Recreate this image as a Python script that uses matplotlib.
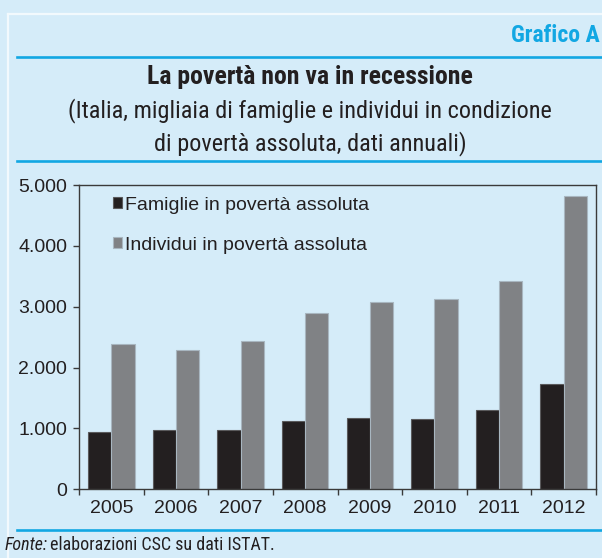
import matplotlib
matplotlib.use('Agg')
import matplotlib.pyplot as plt
import numpy as np
from matplotlib import font_manager
from matplotlib.lines import Line2D

# Data (thousands)
years = ['2005', '2006', '2007', '2008', '2009', '2010', '2011', '2012']
famiglie = [934, 967, 972, 1125, 1164, 1152, 1295, 1726]
individui = [2382, 2295, 2431, 2890, 3070, 3131, 3415, 4813]
series_labels = ['Famiglie in povertà assoluta', 'Individui in povertà assoluta']
yticks = [0, 1000, 2000, 3000, 4000, 5000]
ytick_labels = ['0', '1.000', '2.000', '3.000', '4.000', '5.000']

# pick a condensed face for the titles, if one is installed
names = {f.name for f in font_manager.fontManager.ttflist}
narrow = 'Liberation Sans'
for cand in ['Roboto Condensed', 'Liberation Sans Narrow', 'Archivo Narrow',
             'PT Sans Narrow', 'Pragati Narrow', 'Fira Sans Condensed',
             'IBM Plex Sans Condensed', 'Encode Sans Condensed', 'Roboto']:
    if cand in names:
        narrow = cand
        break
plt.rcParams['font.family'] = ['Liberation Sans', 'DejaVu Sans']

bg = '#d5ecf9'
cyan = '#12a7e3'
dark = '#231f20'
grey = '#808285'

fig = plt.figure(figsize=(6.02, 5.58), dpi=100, facecolor=bg)
W, H = 602, 558

def fx(px):
    return px / W

def fy(py):
    return 1 - py / H

# white frame
fig.add_artist(Line2D([fx(8), fx(8)], [fy(14), 0], transform=fig.transFigure, color='#f2f9fd', lw=1.6))
fig.add_artist(Line2D([fx(8), 1], [fy(14), fy(14)], transform=fig.transFigure, color='#f2f9fd', lw=1.6))

# cyan rules
for py in [57, 161, 530]:
    fig.add_artist(Line2D([fx(17), 1], [fy(py), fy(py)], transform=fig.transFigure, color=cyan, lw=1.9))

fig.text(fx(600), fy(36), 'Grafico A', ha='right', va='center', color=cyan,
         fontsize=17, fontweight='bold', family=[narrow, 'DejaVu Sans'])
fig.text(fx(310), fy(77), 'La povertà non va in recessione', ha='center', va='center',
         color=dark, fontsize=18.5, fontweight='bold', family=[narrow, 'DejaVu Sans'])
fig.text(fx(310), fy(111), '(Italia, migliaia di famiglie e individui in condizione',
         ha='center', va='center', color=dark, fontsize=17.5, family=[narrow, 'DejaVu Sans'])
fig.text(fx(310), fy(144), 'di povertà assoluta, dati annuali)',
         ha='center', va='center', color=dark, fontsize=17.5, family=[narrow, 'DejaVu Sans'])
t_src = fig.text(fx(5), fy(545), 'Fonte:', ha='left', va='center', color=dark,
                 fontsize=13, style='italic', family=[narrow, 'DejaVu Sans'])
r = fig.canvas.get_renderer()
bb = t_src.get_window_extent(renderer=r)
fig.text((bb.x1 + 2) / W, fy(545), 'elaborazioni CSC su dati ISTAT.', ha='left', va='center',
         color=dark, fontsize=13, family=[narrow, 'DejaVu Sans'])

ax = fig.add_axes([fx(79), fy(489.3), fx(596) - fx(79), fy(185) - fy(489.3)])
ax.set_facecolor(bg)

x = np.arange(len(years))
w = 0.36
b1 = ax.bar(x - w / 2, famiglie, w, color=dark, edgecolor='#5a5a5c', linewidth=0.8,
            label=series_labels[0])
b2 = ax.bar(x + w / 2, individui, w, color=grey, edgecolor='#a8b6c0', linewidth=0.8,
            label=series_labels[1])

ax.set_xlim(-0.5, len(years) - 0.5)
ax.set_ylim(0, 5000)
ax.set_yticks(yticks)
ax.set_yticklabels(ytick_labels)
ax.set_xticks(x)
ax.set_xticklabels(years)
ax.set_xticks(np.arange(-0.5, len(years), 1), minor=True)
ax.tick_params(axis='x', which='major', length=0, pad=8, labelsize=14, colors=dark)
ax.tick_params(axis='x', which='minor', length=4, width=1, color='#3a3a3a', direction='out')
ax.tick_params(axis='y', length=4.5, width=1, color='#3a3a3a', labelsize=14,
               labelcolor=dark, pad=4)
for s in ax.spines.values():
    s.set_color('#3a3a3a')
    s.set_linewidth(1)

ax.legend(handles=[b1, b2], loc='upper left', bbox_to_anchor=(0.066, 0.962),
          frameon=False, fontsize=14, handlelength=0.46, handleheight=0.46,
          handletextpad=0.15, labelspacing=1.19, borderpad=0, borderaxespad=0,
          labelcolor=dark)

fig.savefig('out.png', dpi=100, facecolor=bg)
